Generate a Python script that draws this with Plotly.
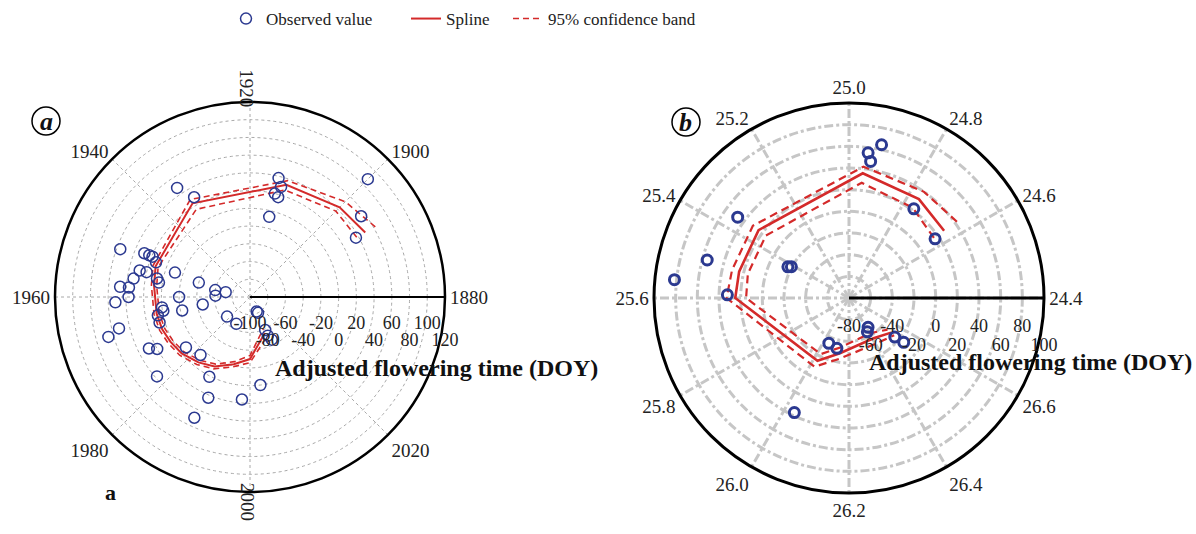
import plotly.graph_objects as go

FONT = "Liberation Serif"
BLUE = "#2b3990"
RED = "#d42a2a"
W, H = 1196, 534

# ---------------- Panel a : year (angular) vs adjusted flowering time (radial)
obs_year_a = [1900, 1914, 1913, 1914, 1913, 1914, 1896, 1893,
              1935, 1933, 1951, 1950, 1950, 1950, 1951, 1954, 1954, 1956,
              1952, 1955, 1956, 1958, 1958, 1960, 1961,
              1953, 1955, 1955, 1959, 1960, 1964, 1965, 1963, 1964, 1965, 1967,
              1966, 1967, 1978, 1988, 2011, 2011, 2012, 2012, 2011,
              1972, 1973, 1977, 1982, 1978, 1988, 2003, 1990, 1998, 1989]
obs_doy_a = [88, 38, 29, 20, 17, -7, 55, 37,
             48, 29, 56, 29, 23, 19, 13, 28, 20, 33,
             -11, 7, 4, 47, 37, 37, 52,
             -40, -60, -72, -61, -20, -46, -22, 0, -1, 6, 6,
             52, 66, -66, -66, -82, -59, -46, -80, -52,
             28, 20, -8, -14, 38, 1, 0, 23, 16, 50]

spline_year_a = [1893, 1900, 1912, 1934, 1952, 1957, 1964.5, 1969, 1973, 1977.6, 1983, 1988, 1994, 2000, 2010]
spline_doy_a = [49, 43, 33, 24, 12, 9, 7, 5.6, 3, 0, -6, -12, -22, -30, -56]
upper_doy_a = [62, 52, 38, 29, 15, 12, 10, 8.6, 6, 3, -3, -9, -19, -26, -51]
lower_doy_a = [38, 37, 27, 16, 9, 6, 4, 2.6, 0, -3, -9, -15, -25, -34, -61]

year_ticks_a = [1880, 1900, 1920, 1940, 1960, 1980, 2000, 2020]
r_ticks_a = [-100, -80, -60, -40, -20, 0, 20, 40, 60, 80, 100, 120]
r_row1_a = [-100, -60, -20, 20, 60, 100]
r_row2_a = [-80, -40, 0, 40, 80, 120]

# ---------------- Panel b : latitude (angular) vs adjusted flowering time (radial)
obs_lat_b = [24.92, 24.95, 24.94, 24.76, 24.63, 25.36, 25.50, 25.56, 25.59,
             25.42, 25.41, 26.42, 26.39, 26.04, 26.11, 26.53, 26.54, 26.03]
obs_doy_b = [64.6, 55.2, 47.6, 21.8, 16.4, 47.0, 55.5, 82, 32.3,
             -16.7, -19.5, -47.7, -44.5, -34.2, -32.2, -24.4, -15, 37.2]

spline_lat_b = [24.635, 24.765, 24.958, 25.354, 25.51, 25.6, 26.022, 26.138, 26.409, 26.537]
spline_doy_b = [27.5, 31.8, 35.8, 24.4, 24.3, 25, -15.2, -28.3, -36.5, -29.7]
upper_doy_b = [42, 40, 42, 31, 31, 33, -9, -23, -31, -26]
lower_doy_b = [16, 22, 27, 16, 16, 15, -22, -34, -42, -34]

lat_ticks_b = [24.4, 24.6, 24.8, 25.0, 25.2, 25.4, 25.6, 25.8, 26.0, 26.2, 26.4, 26.6]
r_ticks_b = [-80, -60, -40, -20, 0, 20, 40, 60, 80, 100]
r_row1_b = [-80, -40, 0, 40, 80]
r_row2_b = [-60, -20, 20, 60, 100]

# angular scales: one full turn = 160 years (a) / 2.4 degrees latitude (b)
YEAR0, YEAR_TURN = 1880, 160.0
LAT0, LAT_TURN = 24.4, 2.4


def year_deg(vals):
    return [(v - YEAR0) * 360.0 / YEAR_TURN for v in vals]


def lat_deg(vals):
    return [(v - LAT0) * 360.0 / LAT_TURN for v in vals]


def lbl(v):
    return f"{v:.1f}"


fig = go.Figure()

# ---- panel a traces
fig.add_trace(go.Scatterpolar(r=upper_doy_a, theta=year_deg(spline_year_a), mode="lines",
                              line=dict(color=RED, width=1.6, dash="6px,4px"),
                              name="95% confidence band", subplot="polar", legend="legend3"))
fig.add_trace(go.Scatterpolar(r=lower_doy_a, theta=year_deg(spline_year_a), mode="lines",
                              line=dict(color=RED, width=1.6, dash="6px,4px"),
                              showlegend=False, subplot="polar"))
fig.add_trace(go.Scatterpolar(r=spline_doy_a, theta=year_deg(spline_year_a), mode="lines",
                              line=dict(color=RED, width=2), name="Spline",
                              subplot="polar", legend="legend2"))
fig.add_trace(go.Scatterpolar(r=obs_doy_a, theta=year_deg(obs_year_a), mode="markers",
                              marker=dict(symbol="circle-open", size=11, color=BLUE,
                                          line=dict(width=1.5, color=BLUE)),
                              name="Observed value", subplot="polar", legend="legend"))
fig.add_trace(go.Scatterpolar(r=[-100], theta=[0], mode="markers", marker=dict(opacity=0),
                              showlegend=False, hoverinfo="skip", subplot="polar2"))

# ---- panel b traces
fig.add_trace(go.Scatterpolar(r=upper_doy_b, theta=lat_deg(spline_lat_b), mode="lines",
                              line=dict(color=RED, width=2.2, dash="8px,5px"),
                              showlegend=False, subplot="polar3"))
fig.add_trace(go.Scatterpolar(r=lower_doy_b, theta=lat_deg(spline_lat_b), mode="lines",
                              line=dict(color=RED, width=2.2, dash="8px,5px"),
                              showlegend=False, subplot="polar3"))
fig.add_trace(go.Scatterpolar(r=spline_doy_b, theta=lat_deg(spline_lat_b), mode="lines",
                              line=dict(color=RED, width=2.6), showlegend=False, subplot="polar3"))
fig.add_trace(go.Scatterpolar(r=obs_doy_b, theta=lat_deg(obs_lat_b), mode="markers",
                              marker=dict(symbol="circle-open", size=10, color=BLUE,
                                          line=dict(width=3, color=BLUE)),
                              showlegend=False, subplot="polar3"))
fig.add_trace(go.Scatterpolar(r=[-80], theta=[0], mode="markers", marker=dict(opacity=0),
                              showlegend=False, hoverinfo="skip", subplot="polar4"))


def px_domain(cx, cy, rad):
    return dict(x=[(cx - rad) / W, (cx + rad) / W], y=[1 - (cy + rad) / H, 1 - (cy - rad) / H])


tick_font = dict(family=FONT, size=19, color="#222222")
rad_font = dict(family=FONT, size=18, color="#222222")
dom_a = px_domain(250, 297, 195)
dom_b = px_domain(849, 298, 195)

fig.update_layout(
    width=W, height=H, margin=dict(l=0, r=0, t=0, b=0),
    paper_bgcolor="white", plot_bgcolor="white",
    polar=dict(
        domain=dom_a, bgcolor="white",
        angularaxis=dict(direction="counterclockwise", rotation=0, tickmode="array",
                         tickvals=year_deg(year_ticks_a),
                         ticktext=[str(y) if y not in (1920, 2000) else "" for y in year_ticks_a],
                         showline=True, linecolor="black", linewidth=2.5,
                         showgrid=True, gridcolor="#a8a8a8", griddash="dot", gridwidth=1.3,
                         ticks="", tickfont=tick_font),
        radialaxis=dict(range=[-100, 120], angle=0, tickangle=0, tickmode="array",
                        tickvals=r_ticks_a,
                        ticktext=[str(v) if v in r_row1_a else "" for v in r_ticks_a],
                        showline=True, linecolor="black", linewidth=2,
                        showgrid=True, gridcolor="#a8a8a8", griddash="dot", gridwidth=1.3,
                        ticks="outside", ticklen=9, tickcolor="rgba(0,0,0,0)",
                        tickfont=rad_font, side="clockwise"),
    ),
    polar2=dict(
        domain=dom_a, bgcolor="rgba(0,0,0,0)",
        angularaxis=dict(direction="counterclockwise", rotation=0, tickmode="array",
                         tickvals=year_deg([1920, 2000]), ticktext=["1920", "2000"],
                         tickangle=90, showline=False, showgrid=False, ticks="",
                         tickfont=tick_font),
        radialaxis=dict(range=[-100, 120], angle=0, tickangle=0, tickmode="array",
                        tickvals=r_row2_a, ticktext=[str(v) for v in r_row2_a],
                        showline=False, showgrid=False, ticks="outside", ticklen=27,
                        tickcolor="rgba(0,0,0,0)", tickfont=rad_font, side="clockwise"),
    ),
    polar3=dict(
        domain=dom_b, bgcolor="white",
        angularaxis=dict(direction="counterclockwise", rotation=0, tickmode="array",
                         tickvals=lat_deg(lat_ticks_b), ticktext=[lbl(v) for v in lat_ticks_b],
                         showline=True, linecolor="black", linewidth=3,
                         showgrid=True, gridcolor="#c6c6c6", griddash="dashdot", gridwidth=2.5,
                         ticks="", tickfont=tick_font),
        radialaxis=dict(range=[-80, 100], angle=0, tickangle=0, tickmode="array",
                        tickvals=r_ticks_b,
                        ticktext=[str(v) if v in r_row1_b else "" for v in r_ticks_b],
                        showline=True, linecolor="black", linewidth=3,
                        showgrid=True, gridcolor="#c6c6c6", griddash="dashdot", gridwidth=2.5,
                        ticks="outside", ticklen=11, tickcolor="rgba(0,0,0,0)",
                        tickfont=rad_font, side="clockwise"),
    ),
    polar4=dict(
        domain=dom_b, bgcolor="rgba(0,0,0,0)",
        angularaxis=dict(direction="counterclockwise", rotation=0, showticklabels=False,
                         showline=False, showgrid=False, ticks=""),
        radialaxis=dict(range=[-80, 100], angle=0, tickangle=0, tickmode="array",
                        tickvals=r_row2_b, ticktext=[str(v) for v in r_row2_b],
                        showline=False, showgrid=False, ticks="outside", ticklen=31,
                        tickcolor="rgba(0,0,0,0)", tickfont=rad_font, side="clockwise"),
    ),
    legend=dict(x=226 / W, y=1 - 19 / H, xanchor="left", yanchor="middle", orientation="h",
                font=dict(family=FONT, size=17, color="#222"), bgcolor="rgba(0,0,0,0)"),
    legend2=dict(x=406 / W, y=1 - 19 / H, xanchor="left", yanchor="middle", orientation="h",
                 font=dict(family=FONT, size=17, color="#222"), bgcolor="rgba(0,0,0,0)"),
    legend3=dict(x=508 / W, y=1 - 19 / H, xanchor="left", yanchor="middle", orientation="h",
                 font=dict(family=FONT, size=17, color="#222"), bgcolor="rgba(0,0,0,0)"),
    showlegend=True,
)

title_font = dict(family=FONT, size=24, color="#111")


def note(x, y, text, font):
    fig.add_annotation(x=x / W, y=1 - y / H, xref="paper", yref="paper", showarrow=False,
                       xanchor="center", yanchor="middle", text=text, font=font)


note(436, 368, "<b>Adjusted flowering time (DOY)</b>", title_font)
note(1030, 362, "<b>Adjusted flowering time (DOY)</b>", title_font)
note(46, 121, "<b><i>a</i></b>", dict(family=FONT, size=26, color="#111"))
note(686, 122, "<b><i>b</i></b>", dict(family=FONT, size=26, color="#111"))
note(110, 492, "<b>a</b>", dict(family=FONT, size=22, color="#111"))

for cx, cy in [(46, 121), (686, 122)]:
    fig.add_shape(type="circle", xref="paper", yref="paper",
                  x0=(cx - 14) / W, x1=(cx + 14) / W, y0=1 - (cy + 14) / H, y1=1 - (cy - 14) / H,
                  line=dict(color="black", width=1.5))

fig.write_html("out.html", config={"displayModeBar": False},
               post_script="document.body.style.margin='0';")
